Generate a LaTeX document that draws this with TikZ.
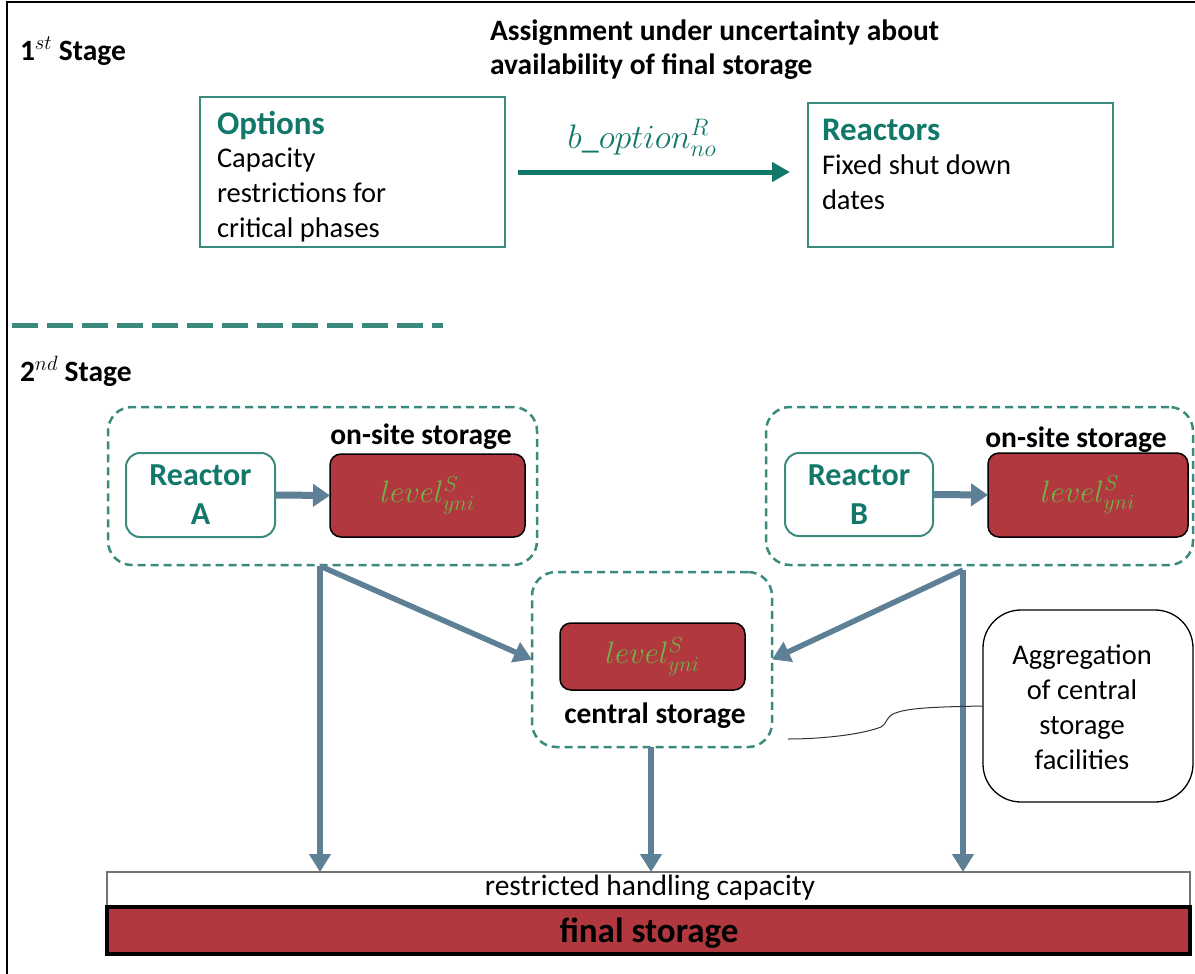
\RequirePackage{fix-cm}
\documentclass[tikz,border=0pt]{standalone}
\usepackage{fontspec}
\setmainfont{Carlito}
\usetikzlibrary{arrows.meta}
\definecolor{tealtxt}{RGB}{18,120,106}
\definecolor{tealbox}{RGB}{58,138,126}
\definecolor{flow}{RGB}{94,128,150}
\definecolor{store}{RGB}{176,56,62}
\definecolor{lvl}{RGB}{112,178,72}
\tikzset{
  every node/.style={inner sep=0pt, outer sep=0pt},
  bodyfont/.style={font=\fontsize{28.5}{35}\selectfont},
  boldfont/.style={font=\fontsize{29.5}{34}\selectfont\bfseries},
  tbox/.style={draw=tealbox, line width=2pt, fill=white, anchor=north west},
  ttl/.style={text=tealtxt, font=\fontsize{33}{38}\selectfont\bfseries, anchor=west},
  bodytxt/.style={bodyfont, align=left, anchor=west},
  grp/.style={draw=tealbox, dash pattern=on 8pt off 5pt, line width=2.5pt, rounded corners=24pt, anchor=north west},
  reactor/.style={draw=tealbox, line width=2pt, rounded corners=14pt, fill=white, text=tealtxt,
     font=\fontsize{32}{39}\selectfont\bfseries, align=center, anchor=north west},
  lvlbox/.style={draw=black, line width=1.5pt, fill=store, rounded corners=11pt, text=lvl,
     font=\fontsize{31}{36}\selectfont, anchor=north west},
  flowarr/.style={draw=flow, line width=5.5pt, -{Triangle[length=18pt,width=21pt]}},
  tealarr/.style={draw=tealtxt, line width=5pt, -{Triangle[length=18pt,width=19pt]}},
}
\begin{document}
\begin{tikzpicture}[x=1pt,y=-1pt]
\useasboundingbox (0,0) rectangle (1195,974);
% frame
\draw[line width=1.5pt] (7,974) -- (7,2) -- (1195,2);

% ---------- 1st stage ----------
\node[boldfont, anchor=west] (st1) at (20,51) {$\mathbf{1}^{st}$ Stage};
\node[boldfont, align=left, anchor=north west] (head) at (490,20)
  {Assignment under uncertainty about\\availability of final storage};

\node[tbox, minimum width=305pt, minimum height=150pt] (opt) at (200,97) {};
\node[ttl] (optT) at (217,125) {Options};
\node[bodytxt, anchor=north west] (optB) at (217,148) {Capacity\\restrictions for\\critical phases};

\node[tbox, minimum width=305pt, minimum height=144pt] (rea) at (808,103) {};
\node[ttl] (reaT) at (822,130) {Reactors};
\node[bodytxt, anchor=north west] (reaB) at (822,155) {Fixed shut down\\dates};

\coordinate (arrS) at (518,172);
\coordinate (arrE) at (790,172);
\draw[tealarr] (arrS) -- (arrE);
\node[text=tealtxt, font=\fontsize{34}{40}\selectfont] (blab) at (642,138) {$b\_option^R_{no}$};

% separator
\coordinate (sepL) at (12,325);
\coordinate (sepR) at (443,325);
\draw[draw=tealbox, line width=5pt, dash pattern=on 26pt off 9pt] (sepL) -- (sepR);

% ---------- 2nd stage ----------
\node[boldfont, anchor=west] (st2) at (20,371) {$\mathbf{2}^{nd}$ Stage};

% group A
\node[grp, minimum width=429pt, minimum height=158pt] (gA) at (108,407) {};
\node[reactor, minimum width=149pt, minimum height=84pt] (rA) at (126,453) {Reactor\\A};
\node[lvlbox, minimum width=195pt, minimum height=83pt] (lA) at (330,454) {$level^S_{yni}$};
\node[boldfont] (osA) at (421,437) {on-site storage};
\draw[draw=flow, line width=7pt, -{Triangle[length=17pt,width=22pt]}] (rA.east) -- (lA.west);

% group B
\node[grp, minimum width=427pt, minimum height=158pt] (gB) at (766,407) {};
\node[reactor, minimum width=148pt, minimum height=83pt] (rB) at (785,453) {Reactor\\B};
\node[lvlbox, minimum width=200pt, minimum height=84pt] (lB) at (988,453) {$level^S_{yni}$};
\node[boldfont] (osB) at (1076,440) {on-site storage};
\draw[draw=flow, line width=7pt, -{Triangle[length=17pt,width=22pt]}] (rB.east) -- (lB.west);

% central
\node[grp, minimum width=240pt, minimum height=175pt] (gC) at (532,572) {};
\node[lvlbox, minimum width=185pt, minimum height=67pt] (lC) at (560,623) {$level^S_{yni}$};
\node[boldfont] (csC) at (655,716) {central storage};

% bottom bars
\node[draw=black!55, line width=2pt, fill=white, minimum width=1083pt, minimum height=34pt, anchor=north west] (hand) at (107,872) {};
\node[font=\fontsize{29.5}{35}\selectfont] (handT) at (650,888) {restricted handling capacity};
\node[draw=black, line width=4pt, fill=store, minimum width=1083pt, minimum height=47pt, anchor=north west] (fin) at (107,907) {};
\node[font=\fontsize{35}{40}\selectfont\bfseries] (finT) at (649,933) {final storage};

% flows
\coordinate (aOut) at (320,566);
\coordinate (bOut) at (963,570);
\draw[flowarr] (aOut) -- (aOut |- hand.north);
\draw[flowarr] (aOut) -- (gC.west);
\draw[flowarr] (bOut) -- (bOut |- hand.north);
\draw[flowarr] (bOut) -- (gC.east);
\draw[flowarr] (gC.south -| 651,0) -- (651,872);

% callout
\node[draw=black, line width=1.3pt, rounded corners=38pt, minimum width=210pt, minimum height=192pt, anchor=north west] (call) at (983,610) {};
\node[bodyfont, align=center] (callT) at (1082,707) {Aggregation\\of central\\storage\\facilities};
\coordinate (cEnd) at (788,739);
\draw[line width=1pt, black!80] (call.west) .. controls (930,707) and (900,708) .. (890,716)
   .. controls (886,720) and (886,724) .. (881,727) .. controls (860,735) and (820,739) .. (cEnd);
\end{tikzpicture}
\end{document}
